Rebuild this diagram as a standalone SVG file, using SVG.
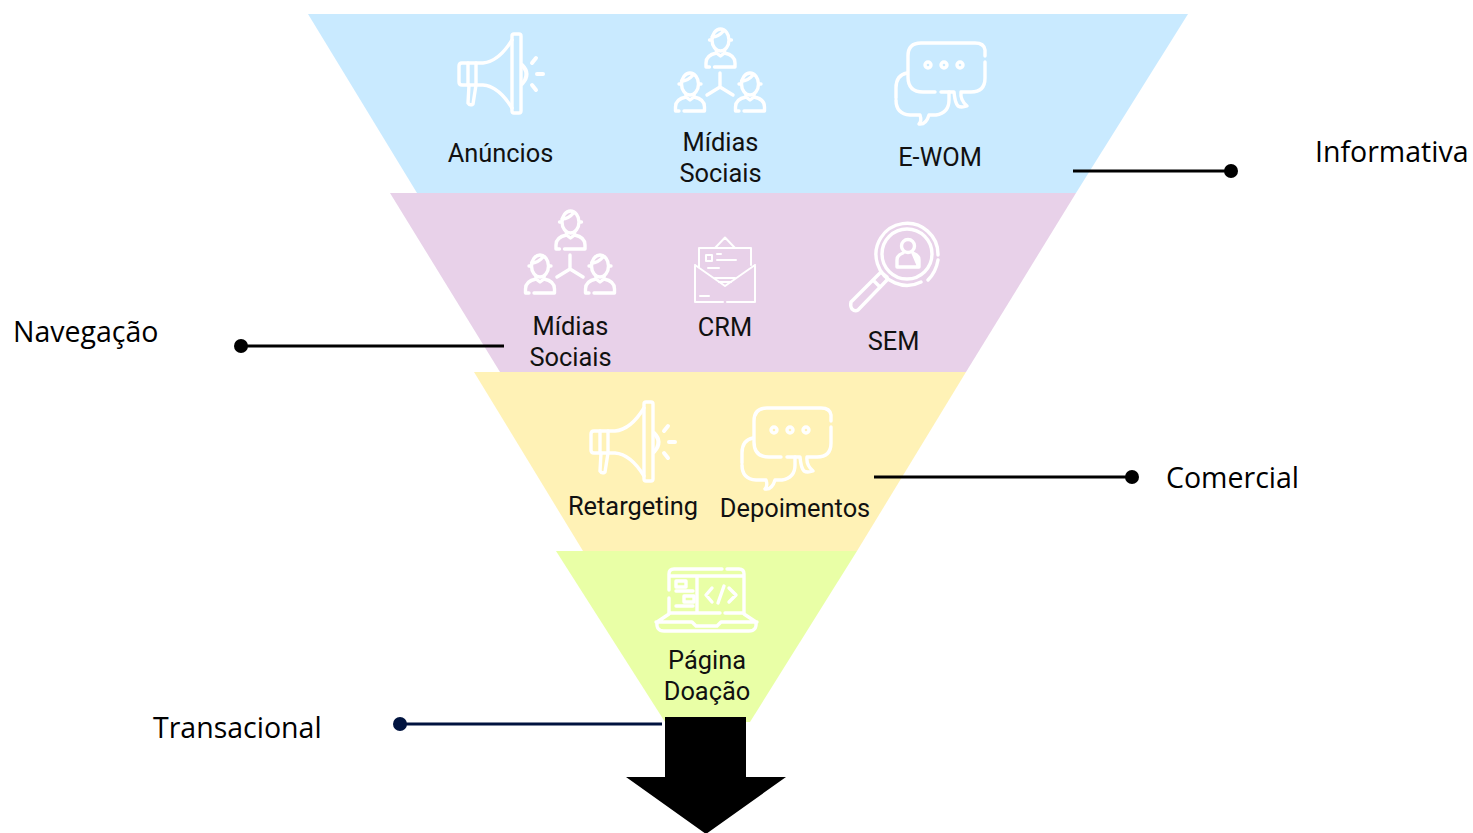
<svg xmlns="http://www.w3.org/2000/svg" width="1473" height="833" viewBox="0 0 1473 833">
<style>
.i{fill:none;stroke:#fff;stroke-width:3.400;stroke-linecap:round;stroke-linejoin:round}
.t{font-family:Roboto,"Liberation Sans",sans-serif;font-size:25.400px;fill:#111;text-anchor:middle}
.s{font-family:"Open Sans","Liberation Sans",sans-serif;font-size:28.500px;fill:#000}
.l{stroke:#000;stroke-width:3;fill:none}
</style>
<defs>
<g id="mega" class="i">
<rect x="512" y="34" width="9" height="79" rx="2"/>
<path d="M512 40C504 53 495 62 483 63H462Q459 63 459 66V82Q459 85 462 85H483C495 86 504 95 512 108"/>
<path d="M468 63V85M476 63V85M469 85L468 103Q470 106 473 104L476 85"/>
<path d="M522 65Q531 74 522 84M532 63L536 58M537 74H543M532 85L536 90" style="stroke-width:4"/>
</g>
<g id="p"><ellipse cx="0" cy="0" rx="8.500" ry="11"/><path d="M-8.500 -3Q-2 -3 3 -9M-9.500 0H-11M9.500 0H11M-4 10V13L0 16L4 13V10M-14.500 27V23Q-14.500 15-4 13M4 13Q14.500 15 14.500 23V27H-6M-14.500 27H-11"/></g>
<g id="people" class="i">
<use href="#p" x="720.500" y="40"/><use href="#p" x="690" y="84"/><use href="#p" x="750" y="84"/>
<path d="M720 73V87L707 95M720 87L733 95"/>
</g>
<g id="chat" class="i">
<path d="M985 56V50Q984 43 975 43H921Q908 43 908 56V77Q908 92 923 92H935M941 92H954Q955 103 958 106Q961 108 967 106Q960 100 961 92H971Q985 92 985 78V62"/>
<path d="M907 73Q896 75 896 88V98M896 100Q896 114 910 115H920Q922 121 919 124Q926 125 929 115H936Q949 113 949 100V92"/>
<circle cx="928" cy="65" r="3"/><circle cx="944" cy="65" r="3"/><circle cx="960" cy="65" r="3"/>
</g>
</defs>
<g id="funnel">
<polygon id="layer-informativa" points="308,14 1188,14 1076,193 417,193" fill="#c9eaff"/>
<polygon id="layer-navegacao" points="390,193 1076,193 966,372 500,372" fill="#e8d1e9"/>
<polygon id="layer-comercial" points="474,372 966,372 857,551 583,551" fill="#fff2b6"/>
<polygon id="layer-transacional" points="556,551 857,551 750,722 665,722" fill="#e9ffa6"/>
</g>
<g id="anuncios"><use href="#mega"/><text class="t" x="500.500" y="162">Anúncios</text></g>
<g id="midias-1"><use href="#people"/><text class="t" x="720.500" y="151">Mídias</text><text class="t" x="720.500" y="182">Sociais</text></g>
<g id="ewom"><use href="#chat"/><text class="t" x="940" y="166">E-WOM</text></g>
<g id="midias-2"><use href="#people" x="-150" y="182"/><text class="t" x="570.500" y="335">Mídias</text><text class="t" x="570.500" y="366">Sociais</text></g>
<g id="crm">
<g class="i" style="stroke-width:2">
<path d="M695 265V302H723M727 302H755V265M695 265L725 286L755 265"/>
<path d="M699 267V248H751V265M715 248L725 237.500L735 248"/>
<rect x="706" y="255" width="6" height="6"/>
<path d="M717 254H721M717 260H736M708 268H719M700 296H709M715 278H735M719 282H731"/>
</g>
<text class="t" x="725" y="336">CRM</text>
</g>
<g id="sem">
<g class="i">
<path d="M921 282A31 31 0 1 1 938 255M938 260Q936 272 928 280"/>
<circle cx="907" cy="254" r="25"/>
<circle cx="908" cy="246" r="6.500"/>
<path d="M897 267V260Q897 255 903 253M913 253Q919 255 919 260V267ZM897 267H919"/>
<path d="M887 277L881 272L851 302Q850 306 852 309Q855 312 858 310L887 280ZM873 280L880 287"/>
</g>
<text class="t" x="893.500" y="350">SEM</text>
</g>
<g id="retargeting"><use href="#mega" x="132" y="368"/><text class="t" x="633" y="515">Retargeting</text></g>
<g id="depoimentos"><use href="#chat" x="-154" y="365"/><text class="t" x="795" y="517">Depoimentos</text></g>
<g id="pagina">
<g class="i">
<path d="M669 613V598M669 590V574Q669 569 674 569H722M727 569H739Q744 569 744 574V613M697 576V613M669 576H744M669 613H720M725 613H744"/>
<rect x="676" y="581" width="10" height="6"/><rect x="684" y="596" width="10" height="6"/>
<path d="M676 591H693M676 606H693M712 588L706 595L712 602M729 588L736 595L729 602M724 586L718 603"/>
<path d="M669 614L657 622Q656 631 664 631H749Q757 631 756 622L744 614M656 622H692L696 626H717L721 622H757"/>
</g>
<text class="t" x="707" y="669">Página</text><text class="t" x="707" y="700">Doação</text>
</g>
<g id="connectors">
<path class="l" d="M1073 171H1231"/><circle cx="1231" cy="171" r="7"/>
<path class="l" d="M241 346H504"/><circle cx="241" cy="346" r="7"/>
<path class="l" d="M874 477H1132"/><circle cx="1132" cy="477" r="7"/>
<path class="l" d="M400 724H662" style="stroke:#00133f"/><circle cx="400" cy="724" r="7" fill="#00133f"/>
</g>
<polygon id="arrow" points="665,717 746,717 746,777 786,777 706,834 626,777 665,777" fill="#000"/>
<g id="side-labels">
<text class="s" x="1315" y="162">Informativa</text>
<text class="s" x="13" y="342">Navegação</text>
<text class="s" x="1166" y="488">Comercial</text>
<text class="s" x="153" y="738">Transacional</text>
</g>
</svg>
